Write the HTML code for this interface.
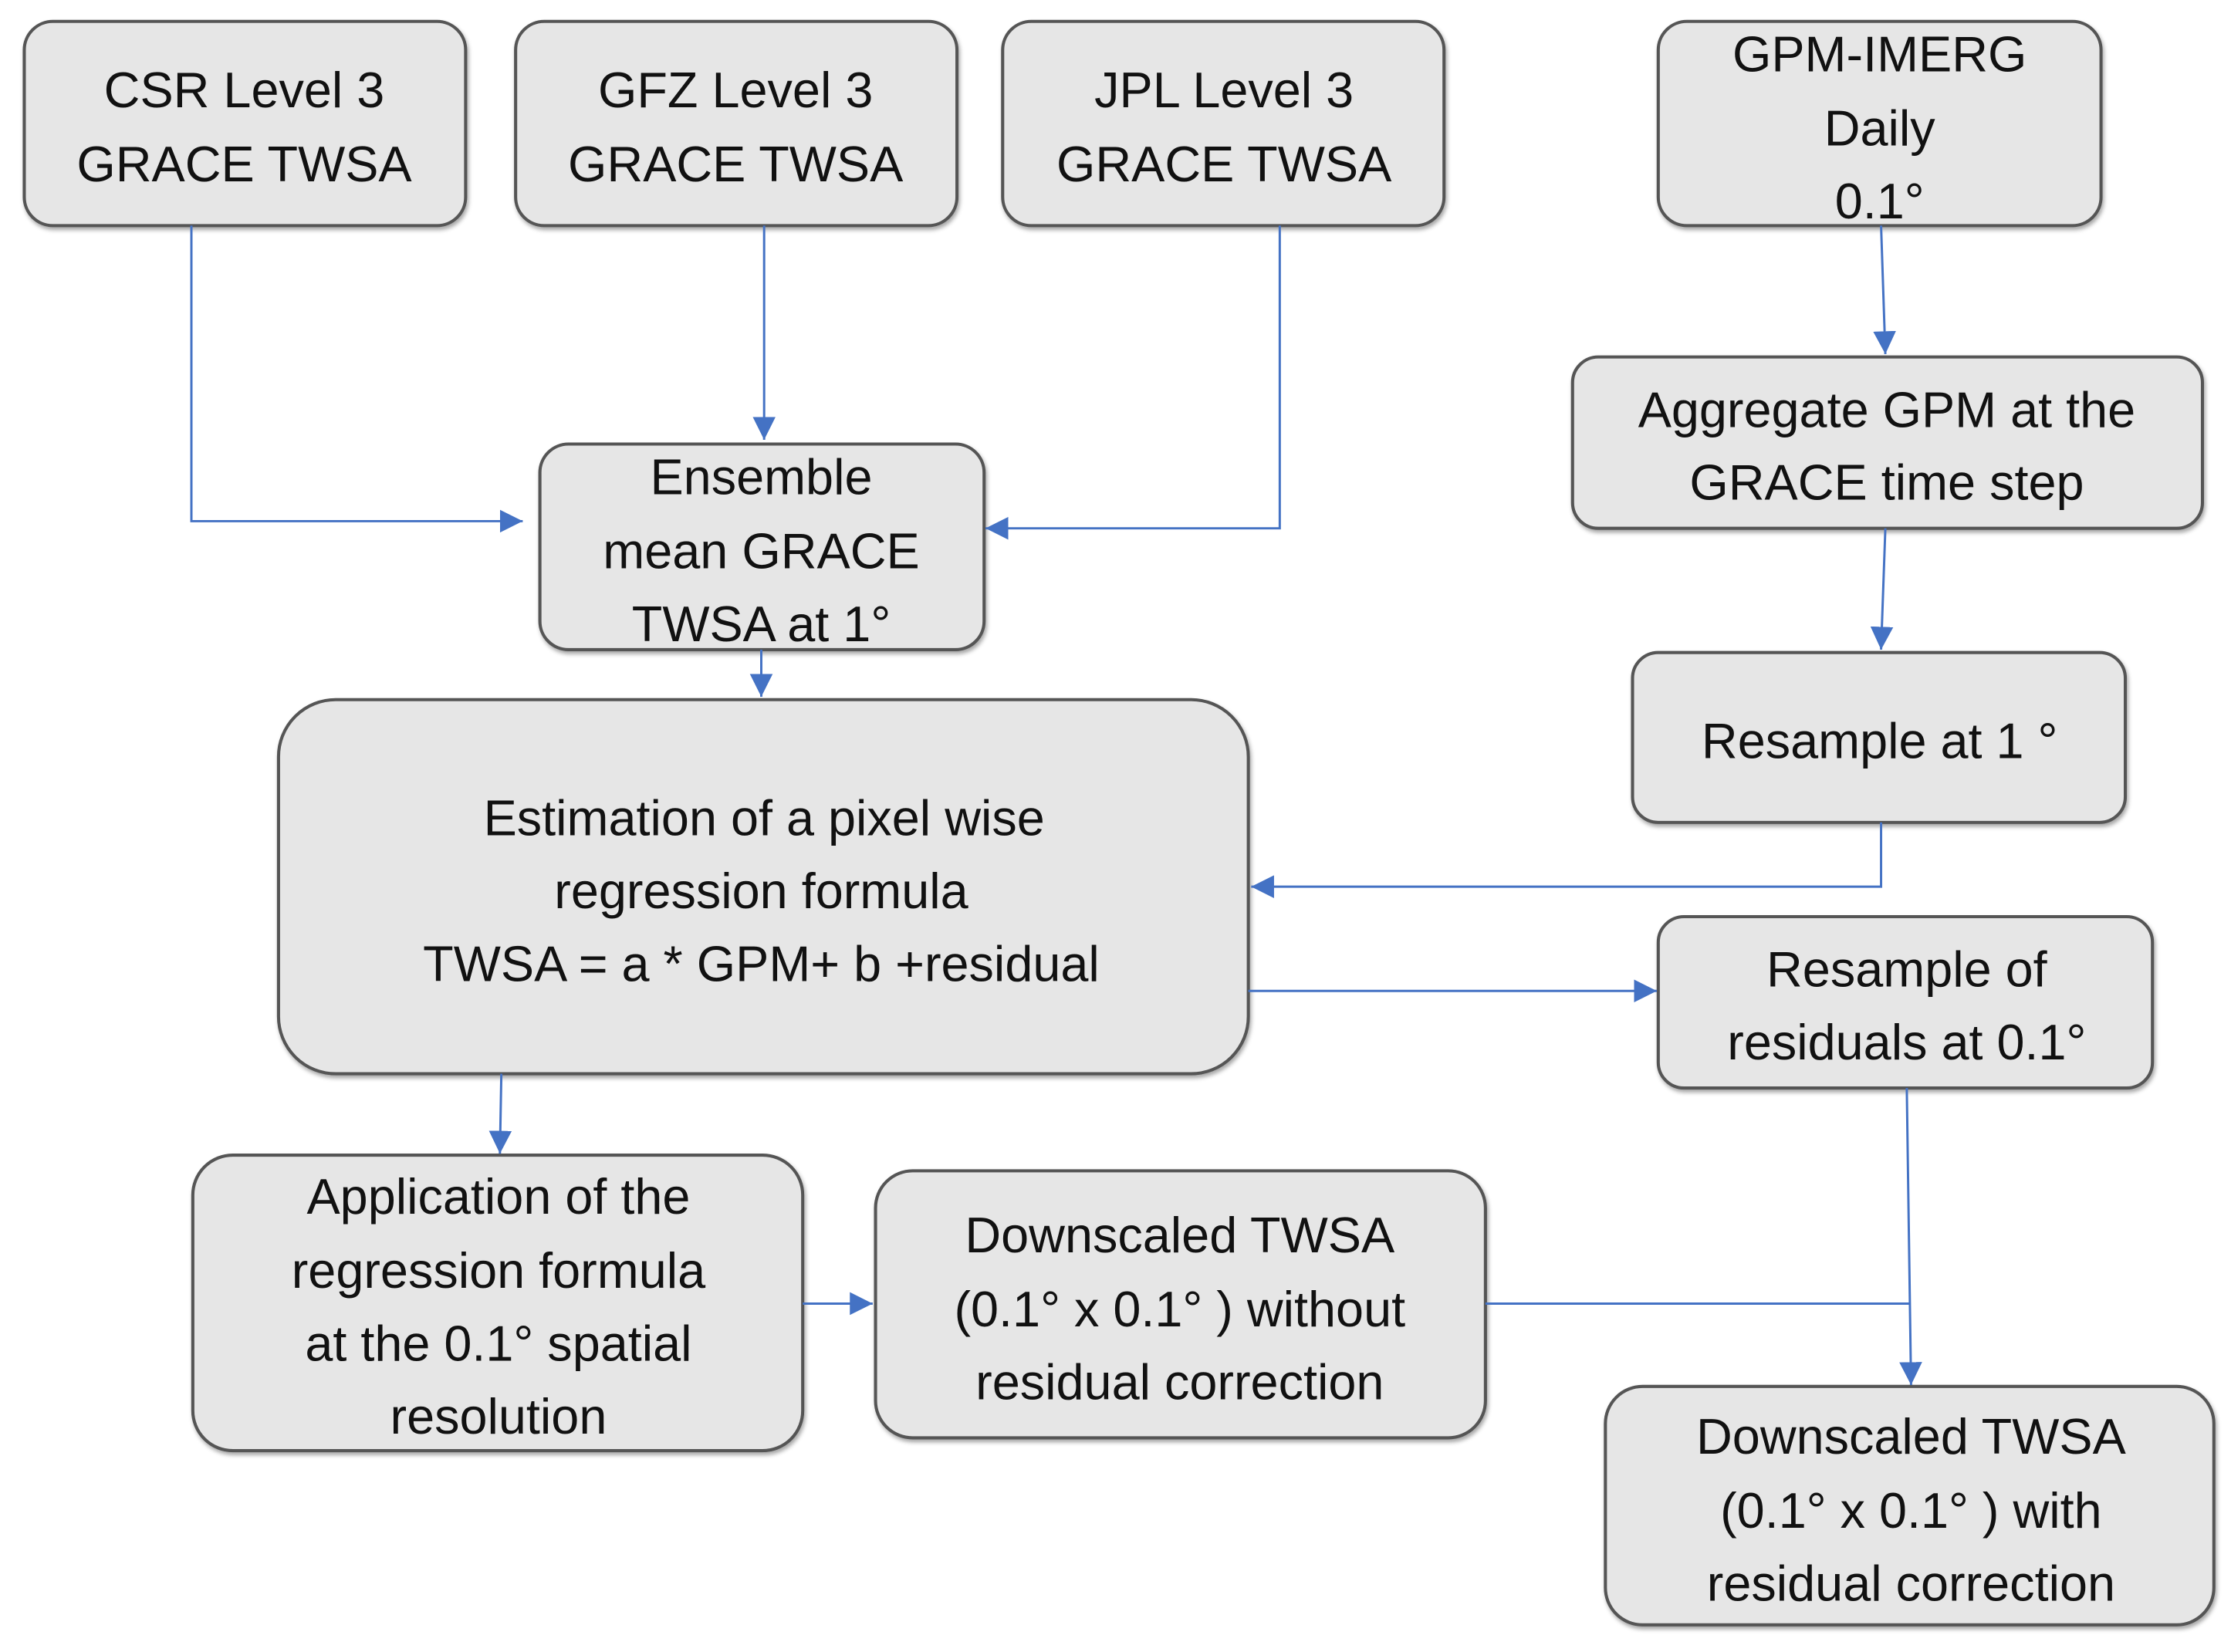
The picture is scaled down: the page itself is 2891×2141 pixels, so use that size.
<!DOCTYPE html>
<html><head><meta charset="utf-8"><style>
html,body{margin:0;padding:0;background:#fff;}
svg{display:block;}
text{font-family:"Liberation Sans",sans-serif;font-size:35px;fill:#111;text-anchor:middle;}
</style></head><body>
<svg width="2891" height="2141" viewBox="0 0 1562 1157" preserveAspectRatio="none" xmlns="http://www.w3.org/2000/svg">
<defs>
<marker id="a" viewBox="0 0 10 10" refX="10" refY="5" markerWidth="16" markerHeight="16" markerUnits="userSpaceOnUse" orient="auto"><path d="M0,0L10,5L0,10z" fill="#4472c4"/></marker>
<filter id="s" x="-5%" y="-5%" width="110%" height="115%"><feDropShadow dx="1" dy="2" stdDeviation="1.5" flood-color="#000" flood-opacity="0.35"/></filter>
</defs>
<g fill="#e6e6e6" stroke="#555" stroke-width="2.2" filter="url(#s)">
<rect x="17" y="15" width="309" height="143" rx="20"/>
<rect x="361" y="15" width="309" height="143" rx="20"/>
<rect x="702" y="15" width="309" height="143" rx="20"/>
<rect x="1161" y="15" width="310" height="143" rx="20"/>
<rect x="1101" y="250" width="441" height="120" rx="18"/>
<rect x="378" y="311" width="311" height="144" rx="20"/>
<rect x="1143" y="457" width="345" height="119" rx="18"/>
<rect x="195" y="490" width="679" height="262" rx="40"/>
<rect x="1161" y="642" width="346" height="120" rx="18"/>
<rect x="135" y="809" width="427" height="207" rx="28"/>
<rect x="613" y="820" width="427" height="187" rx="26"/>
<rect x="1124" y="971" width="426" height="167" rx="26"/>
</g>
<g fill="none" stroke="#4472c4" stroke-width="1.6">
<path d="M134,158V365H366" marker-end="url(#a)"/>
<path d="M535,158V308" marker-end="url(#a)"/>
<path d="M896,158V370H690" marker-end="url(#a)"/>
<path d="M1317,158L1320,248" marker-end="url(#a)"/>
<path d="M1320,370L1317,455" marker-end="url(#a)"/>
<path d="M533,455V488" marker-end="url(#a)"/>
<path d="M1317,576V621H876" marker-end="url(#a)"/>
<path d="M874,694H1160" marker-end="url(#a)"/>
<path d="M351,752L350,808" marker-end="url(#a)"/>
<path d="M562,913H611" marker-end="url(#a)"/>
<path d="M1040,913H1337"/>
<path d="M1335,762L1338,970" marker-end="url(#a)"/>
</g>
<text x="171" y="75">CSR Level 3</text><text x="171" y="127">GRACE TWSA</text>
<text x="515" y="75">GFZ Level 3</text><text x="515" y="127">GRACE TWSA</text>
<text x="857" y="75">JPL Level 3</text><text x="857" y="127">GRACE TWSA</text>
<text x="1316" y="50">GPM-IMERG</text><text x="1316" y="102">Daily</text><text x="1316" y="153">0.1°</text>
<text x="1321" y="299">Aggregate GPM at the</text><text x="1321" y="350">GRACE time step</text>
<text x="533" y="346">Ensemble</text><text x="533" y="398">mean GRACE</text><text x="533" y="449">TWSA at 1°</text>
<text x="1316" y="531">Resample at 1 °</text>
<text x="535" y="585">Estimation of a pixel wise</text><text x="533" y="636">regression formula</text><text x="533" y="687">TWSA = a * GPM+ b +residual</text>
<text x="1335" y="691">Resample of</text><text x="1335" y="742">residuals at 0.1°</text>
<text x="349" y="850">Application of the</text><text x="349" y="902">regression formula</text><text x="349" y="953">at the 0.1° spatial</text><text x="349" y="1004">resolution</text>
<text x="826" y="877">Downscaled TWSA</text><text x="826" y="929">(0.1° x 0.1° ) without</text><text x="826" y="980">residual correction</text>
<text x="1338" y="1018">Downscaled TWSA</text><text x="1338" y="1070">(0.1° x 0.1° ) with</text><text x="1338" y="1121">residual correction</text>
</svg>
</body></html>
